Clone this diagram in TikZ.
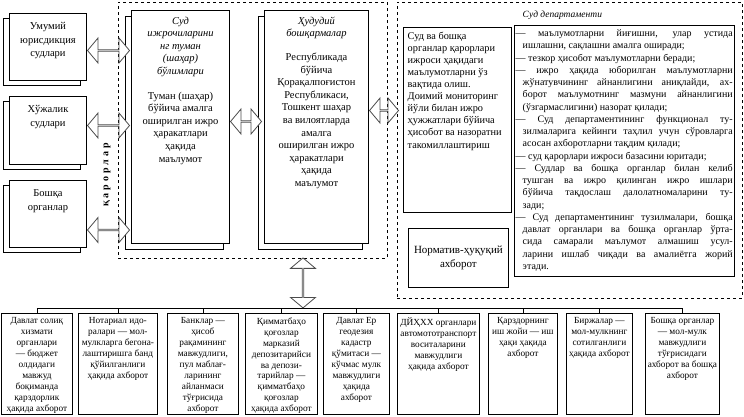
\documentclass[tikz,border=0pt]{standalone}
\usepackage{fontspec}
\setmainfont{Liberation Serif}
\usetikzlibrary{shapes,shapes.arrows,positioning,fit,shadows,calc}

\newcommand\leftfont{\fontsize{10.5}{13.5}\selectfont}
\newcommand\boxfont{\fontsize{10.5}{12.6}\selectfont}
\newcommand\infofont{\fontsize{10.3}{12.1}\selectfont}
\newcommand\listfont{\fontsize{10}{12.25}\selectfont}
\newcommand\botfont{\fontsize{9.3}{10.9}\selectfont}
\newcommand\jfirst[1]{\makebox[217pt][s]{#1}}
\newcommand\jcont[1]{\hspace*{7pt}\makebox[210pt][s]{#1}}
\newcommand\jlast[1]{\hspace*{7pt}#1}

\begin{document}
\begin{tikzpicture}[
    x=1pt, y=-1pt, line width=0.8pt,
    court/.style={
      rectangle, draw, fill=white, line width=1pt, anchor=north west, inner sep=0pt,
      copy shadow={shadow xshift=-6pt, shadow yshift=-5pt, draw=black, fill=white, line width=0.7pt},
      label={[anchor=north, align=center, font=\leftfont, yshift=-6pt]north:{#1}}
    },
    unit/.style={
      rectangle, draw, fill=white, line width=1pt, anchor=north west, inner sep=0pt,
      copy shadow={shadow xshift=-6pt, shadow yshift=-6pt, draw=black, fill=white, line width=0.7pt},
      label={[anchor=north, align=center, font=\boxfont, yshift=-3pt]north:{#1}}
    },
    info/.style={
      rectangle, draw, anchor=north west, inner sep=0pt,
      label={[anchor=north west, align=left, font=\infofont, xshift=1pt, yshift=-1pt]north west:{#1}}
    },
    duties/.style={
      rectangle, draw, anchor=north west, inner sep=0pt,
      label={[anchor=north west, align=left, font=\listfont, xshift=-2pt, yshift=-1pt]north west:{#1}}
    },
    source/.style={
      rectangle, draw, anchor=north west, inner sep=0pt, minimum height=101pt,
      label={[anchor=north, align=center, font=\botfont, yshift=-1pt]north:{#1}}
    },
    group/.style={rectangle, draw, dashed, inner sep=0pt},
    flow/.style={
      double arrow, draw=black!70, fill=white, inner sep=0pt,
      minimum width=25pt, double arrow head extend=6.5pt, double arrow tip angle=100
    }
  ]
  \useasboundingbox (0,0) rectangle (744,416);

  % dashed groups
  \node[group, fit={(118,2) (387,258)}] (exec) {};
  \node[group, fit={(397,2) (742,298)}] (dept) {};

  % courts on the left
  \node[court={Умумий\\юрисдикция\\судлари}, minimum width=77pt, minimum height=67pt] (ujur) at (9,13) {};
  \node[court={Хўжалик\\судлари}, minimum width=77pt, minimum height=68pt] (xuj) at (9,96) {};
  \node[court={Бошқа\\органлар}, minimum width=77pt, minimum height=67pt] (other) at (9,180) {};
  \node[rotate=90, font=\bfseries\fontsize{10}{10}\selectfont\addfontfeature{LetterSpace=30}] (rulings) at (107,175) {қарорлар};

  % enforcement units
  \node[unit={\textit{Суд}\\\textit{ижрочиларини}\\\textit{нг туман}\\\textit{(шаҳар)}\\\textit{бўлимлари}\\[12pt]Туман (шаҳар)\\бўйича амалга\\оширилган ижро\\ҳаракатлари\\ҳақида\\маълумот}, minimum width=98pt, minimum height=233pt] (tuman) at (131,10) {};
  \node[unit={\textit{Ҳудудий}\\\textit{бошқармалар}\\[11pt]Республикада\\бўйича\\Қорақалпоғистон\\Республикаси,\\Тошкент шаҳар\\ва вилоятларда\\амалга\\оширилган ижро\\ҳаракатлари\\ҳақида\\маълумот}, minimum width=104pt, minimum height=233pt] (hudud) at (264,10) {};

  % court department
  \node[anchor=west, font=\itshape\fontsize{9.5}{12}\selectfont] (depttitle) at (519,15) {Суд департаменти};
  \node[info={Суд ва бошқа\\органлар қарорлари\\ижроси ҳақидаги\\маълумотларни ўз\\вақтида олиш.\\Доимий мониторинг\\йўли билан ижро\\ҳужжатлари бўйича\\ҳисобот ва назоратни\\такомиллаштириш}, minimum width=108pt, minimum height=185pt] (aim) at (403,27) {};
  \node[duties={\jfirst{— маълумотларни йиғишни, улар устида}\\
      \jlast{ишлашни, сақлашни амалга оширади;}\\
      — тезкор ҳисобот маълумотларни беради;\\
      \jfirst{— ижро ҳақида юборилган маълумотларни}\\
      \jcont{жўнатувчининг айнанлигини аниқлайди, ах-}\\
      \jcont{борот маълумотнинг мазмуни айнанлигини}\\
      \jlast{(ўзгармаслигини) назорат қилади;}\\
      \jfirst{— Суд департаментининг функционал ту-}\\
      \jcont{зилмаларига кейинги таҳлил учун сўровларга}\\
      \jlast{асосан ахборотларни тақдим қилади;}\\
      — суд қарорлари ижроси базасини юритади;\\
      \jfirst{— Судлар ва бошқа органлар билан келиб}\\
      \jcont{тушган ва ижро қилинган ижро ишлари}\\
      \jcont{бўйича тақдослаш далолатномаларини ту-}\\
      \jlast{зади;}\\
      \jfirst{— Суд департаментининг тузилмалари, бошқа}\\
      \jcont{давлат органлари ва бошқа органлар ўрта-}\\
      \jcont{сида самарали маълумот алмашиш усул-}\\
      \jcont{ларини ишлаб чиқади ва амалиётга жорий}\\
      \jlast{этади.}}, minimum width=220pt, minimum height=251pt] (tasks) at (514,25) {};
  \node[draw, anchor=north west, inner sep=0pt, minimum width=100pt, minimum height=59pt, align=center, font=\fontsize{11}{14}\selectfont] (norm) at (408,228) {Норматив-ҳуқуқий\\ахборот};

  % information sources
  \node[source={Давлат солиқ\\хизмати\\органлари\\— бюджет\\олдидаги\\мавжуд\\боқиманда\\қарздорлик\\ҳақида ахборот}, minimum width=71pt] (b1) at (1,313) {};
  \node[source={Нотариал идо-\\ралари — мол-\\мулкларга бегона-\\лаштиришга банд\\қўйилганлиги\\ҳақида ахборот}, minimum width=79pt] (b2) at (78,313) {};
  \node[source={Банклар —\\ҳисоб\\рақамининг\\мавжудлиги,\\пул маблағ-\\ларининг\\айланмаси\\тўғрисида\\ахборот}, minimum width=71pt] (b3) at (167,313) {};
  \node[source={Қимматбаҳо\\қоғозлар\\марказий\\депозитарийси\\ва депози-\\тарийлар —\\қимматбаҳо\\қоғозлар\\ҳақида ахборот}, minimum width=72pt] (b4) at (245,313) {};
  \node[source={Давлат Ер\\геодезия\\кадастр\\қўмитаси —\\кўчмас мулк\\мавжудлиги\\ҳақида\\ахборот}, minimum width=66pt] (b5) at (323,313) {};
  \node[source={ДЙҲХХ органлари\\автомототранспорт\\воситаларини\\мавжудлиги\\ҳақида ахборот}, minimum width=82pt] (b6) at (397,313) {};
  \node[source={Қарздорнинг\\иш жойи — иш\\ҳақи ҳақида\\ахборот}, minimum width=69pt] (b7) at (488,313) {};
  \node[source={Биржалар —\\мол-мулкнинг\\сотилганлиги\\ҳақида ахборот}, minimum width=66pt] (b8) at (566,313) {};
  \node[source={Бошқа органлар\\— мол-мулк\\мавжудлиги\\тўғрисидаги\\ахборот ва бошқа\\ахборот}, minimum width=74pt] (b9) at (645,313) {};

  \coordinate (bus) at (0,308);
  \draw (b1.north |- bus) -- (b9.north |- bus);
  \foreach \i in {1,...,9}
    \draw (b\i.north) -- (b\i.north |- bus);

  % exchange arrows
  \node[flow, minimum height=42pt, anchor=west] (a1) at ([yshift=-3.5pt]ujur.east) {};
  \node[flow, minimum height=42pt, anchor=west] (a2) at ([yshift=5pt]xuj.east) {};
  \node[flow, minimum height=42pt, anchor=west] (a3) at ([yshift=-16pt]other.east) {};
  \node[flow, minimum height=31pt, anchor=west] (a4) at ([yshift=5.5pt]tuman.east) {};
  \node[flow, minimum height=29pt, anchor=west] (a5) at ([yshift=16.5pt]hudud.east) {};
  \node[flow, shape border rotate=90, minimum height=50pt, minimum width=25pt] (a6) at ($(exec.south)+(50.5,24.5)$) {};
\end{tikzpicture}
\end{document}
